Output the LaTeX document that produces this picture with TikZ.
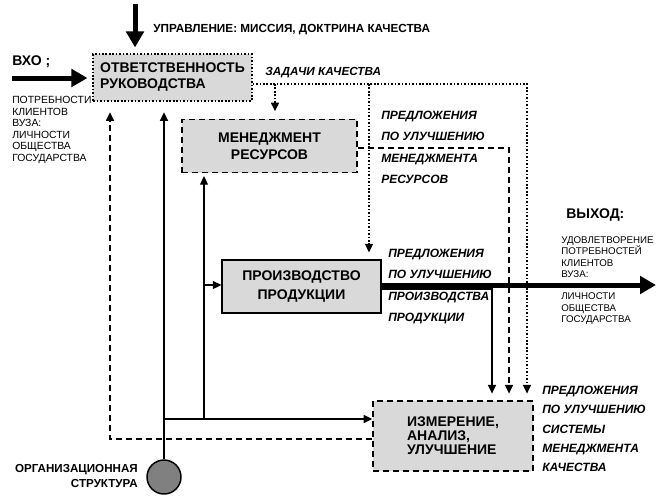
\documentclass[tikz,border=0pt]{standalone}
\usepackage{fontspec}
\setmainfont{Liberation Sans}
\usepackage{xcolor}
\usetikzlibrary{arrows.meta}
\definecolor{boxgray}{RGB}{217,217,217}
\tikzset{procbox/.style={draw,fill=boxgray,line width=1.1pt,inner sep=0pt,
        align=center,font=\bfseries\fontsize{10.5}{12}\selectfont},
    dotbox/.style={procbox,dash pattern=on 1.2pt off 1.4pt},
    dashbox/.style={procbox,dash pattern=on 4.5pt off 3pt},
    arr/.style={line width=1.1pt,-{Triangle[length=6.5pt,width=6pt]}},
    dotarr/.style={arr,dash pattern=on 1.2pt off 1.4pt},
    dasharr/.style={arr,dash pattern=on 4.5pt off 3pt},
    bigarr/.style={line width=3.75pt,-{Triangle[length=12pt,width=13pt]}},
    note/.style={font=\bfseries\itshape\fontsize{9}{16}\selectfont,
        align=left,inner sep=0pt,anchor=north west},
    smalltxt/.style={font=\fontsize{7.8}{8.7}\selectfont,
        align=left,inner sep=0pt,anchor=north west},
    x=0.75pt,y=-0.75pt}

\begin{document}
\begin{tikzpicture}
\useasboundingbox (0,0) rectangle (656,497);
\node[dotbox,minimum width=119pt,minimum height=35pt,align=left] (resp) at (172.5,77.5)
    {ОТВЕТСТВЕННОСТЬ\\РУКОВОДСТВА};
\node[dashbox,minimum width=131pt,minimum height=40pt,
    font=\bfseries\fontsize{10.5}{13}\selectfont] (res) at (269.5,146)
    {МЕНЕДЖМЕНТ\\РЕСУРСОВ};
\node[procbox,minimum width=119pt,minimum height=40pt,
    font=\bfseries\fontsize{10.5}{14}\selectfont] (prod) at (301.5,286.5)
    {ПРОИЗВОДСТВО\\ПРОДУКЦИИ};
\node[dashbox,minimum width=120pt,minimum height=52.5pt,align=left,
    font=\bfseries\fontsize{10.5}{10.5}\selectfont] (meas) at (453,436)
    {ИЗМЕРЕНИЕ,\\АНАЛИЗ,\\УЛУЧШЕНИЕ};
\node[circle,draw,fill=gray,line width=1.1pt,minimum size=25.5pt,inner sep=0pt] (org) at (164,477) {};

\node[anchor=west,inner sep=0pt,font=\bfseries\fontsize{8.8}{10}\selectfont] (ctrltxt) at (153,30)
    {УПРАВЛЕНИЕ: МИССИЯ, ДОКТРИНА КАЧЕСТВА};
\node[anchor=west,inner sep=0pt,font=\bfseries\fontsize{10.5}{12}\selectfont] (intxt) at (12,62) {ВХО ;};
\node[smalltxt] (needs) at (12,96)
    {ПОТРЕБНОСТИ\\КЛИЕНТОВ\\ВУЗА:\\ЛИЧНОСТИ\\ОБЩЕСТВА\\ГОСУДАРСТВА};
\node[anchor=west,inner sep=0pt,font=\bfseries\itshape\fontsize{8.8}{10}\selectfont] (tasks) at (265,73)
    {ЗАДАЧИ КАЧЕСТВА};
\node[note] (resnote) at (381,111)
    {ПРЕДЛОЖЕНИЯ\\ПО УЛУЧШЕНИЮ\\МЕНЕДЖМЕНТА\\РЕСУРСОВ};
\node[note] (prodnote) at (388,249)
    {ПРЕДЛОЖЕНИЯ\\ПО УЛУЧШЕНИЮ\\ПРОИЗВОДСТВА\\ПРОДУКЦИИ};
\node[note,font=\bfseries\itshape\fontsize{9}{14.5}\selectfont] (measnote) at (542,386)
    {ПРЕДЛОЖЕНИЯ\\ПО УЛУЧШЕНИЮ\\СИСТЕМЫ\\МЕНЕДЖМЕНТА\\КАЧЕСТВА};
\node[anchor=west,inner sep=0pt,font=\bfseries\fontsize{10.5}{12}\selectfont] (outtxt) at (566,215) {ВЫХОД:};
\node[smalltxt,font=\fontsize{7.3}{8.7}\selectfont] (result) at (561,236)
    {УДОВЛЕТВОРЕНИЕ\\ПОТРЕБНОСТЕЙ\\КЛИЕНТОВ\\ВУЗА:\\[7.5pt]ЛИЧНОСТИ\\ОБЩЕСТВА\\ГОСУДАРСТВА};
\node[anchor=east,inner sep=0pt,align=right,font=\bfseries\fontsize{8.7}{11}\selectfont] (orgtxt) at (138,476)
    {ОРГАНИЗАЦИОННАЯ\\СТРУКТУРА};

\coordinate (ctrl) at (135,4);
\coordinate (inp) at (12,78);
\coordinate (outp) at (656,285);
\coordinate (tq) at (527,84);
\coordinate (tr) at (275,84);
\coordinate (tp) at (369,84);
\coordinate (rq) at (509,148);
\coordinate (pq) at (492,289);
\coordinate (fb) at (110,439);
\coordinate (hj) at (164,419);
\coordinate (vj) at (204,419);
\coordinate (pj) at (204,285);

\draw[bigarr,shorten >=4.5pt] (ctrl) -- (ctrl |- resp.north);
\draw[bigarr,shorten >=3.75pt] (inp) -- (inp -| resp.west);
\draw[bigarr] (prod.east |- outp) -- (outp);
\draw[dotarr,shorten >=5pt] (resp.east |- tq) -- (tq) -- (tq |- meas.north);
\draw[dotarr,shorten >=5.5pt] (tr) -- (tr |- res.north);
\draw[dotarr,shorten >=5pt] (tp) -- (tp |- prod.north);
\draw[dasharr,shorten >=5pt] (res.east |- rq) -- (rq) -- (rq |- meas.north);
\draw[arr,shorten >=5pt] (prod.east |- pq) -- (pq) -- (pq |- meas.north);
\draw[arr,shorten >=8pt] (org.north) -- (org.north |- resp.south);
\draw[arr] (hj) -- (meas.west |- hj);
\draw[arr,shorten >=2pt] (vj) -- (vj |- res.south);
\draw[arr] (pj) -- (prod.west |- pj);
\draw[dasharr,shorten >=8pt] (meas.west |- fb) -- (fb) -- (fb |- resp.south);
\end{tikzpicture}
\end{document}
